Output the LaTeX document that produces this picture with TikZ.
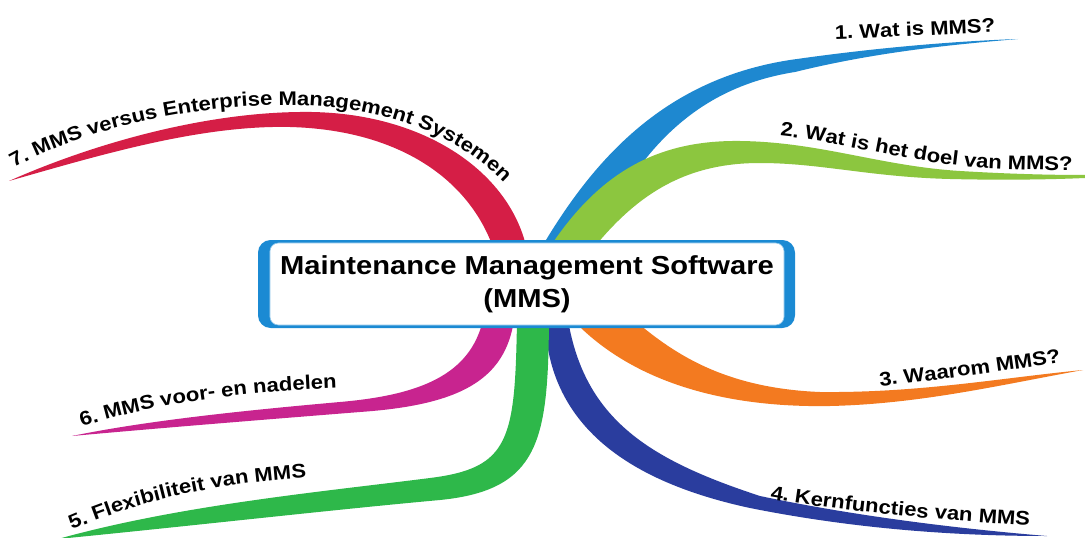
\documentclass[tikz,border=0pt]{standalone}
\usepackage{fontspec}
\setmainfont{Liberation Sans}[FakeStretch=1.12]
\usetikzlibrary{decorations.text}

\definecolor{hubblue}{RGB}{27,138,211}
\definecolor{wat}{RGB}{30,136,208}
\definecolor{doel}{RGB}{140,198,63}
\definecolor{waarom}{RGB}{243,122,32}
\definecolor{kern}{RGB}{42,61,158}
\definecolor{flex}{RGB}{46,184,74}
\definecolor{voordeel}{RGB}{200,36,143}
\definecolor{ems}{RGB}{213,30,70}

\newcommand\topicfont{\bfseries\fontsize{14}{16}\selectfont}

\begin{document}
\begin{tikzpicture}[x=0.025cm,y=-0.025cm,
    hub/.style={fill=white,draw=hubblue!50,line width=0.5pt,rounded corners=6pt,
      minimum width=12.85cm,minimum height=2.05cm,inner sep=0pt,align=center,
      font=\bfseries\fontsize{18.5}{23.4}\selectfont},
    topic/.style={decorate,decoration={text along path,text={|\topicfont|#1}}}]

  \fill[white] (0,0) rectangle (1085,538);
  \useasboundingbox (0,0) rectangle (1085,538);

  % branches, base first
  \fill[ems] (527,250) .. controls (510,170) and (420,110) .. (300,112)
    .. controls (200,113) and (90,145) .. (9,181)
    .. controls (100,155) and (200,125) .. (290,127)
    .. controls (400,130) and (470,180) .. (494,250) -- cycle;
  \fill[wat] (540,250) .. controls (590,165) and (660,80) .. (790,60)
    .. controls (880,47) and (960,41) .. (1018,39)
    .. controls (960,44) and (880,51) .. (795,72)
    .. controls (680,90) and (630,170) .. (590,250) -- cycle;
  \fill[doel] (548,250) .. controls (600,170) and (660,140) .. (740,141)
    .. controls (820,142) and (880,166) .. (960,171)
    .. controls (1010,174) and (1050,175) .. (1085,175)
    -- (1085,178) .. controls (1040,180) and (990,180) .. (950,179)
    .. controls (870,177) and (820,163) .. (760,163)
    .. controls (690,163) and (640,190) .. (592,250) -- cycle;
  \fill[waarom] (573,320) .. controls (630,380) and (720,408) .. (830,406)
    .. controls (920,404) and (1000,385) .. (1083,370)
    .. controls (1000,378) and (920,393) .. (820,392)
    .. controls (720,388) and (670,350) .. (634,320) -- cycle;
  \fill[kern] (568,320) .. controls (585,420) and (650,460) .. (760,496)
    .. controls (850,515) and (950,528) .. (1047,536)
    .. controls (950,536) and (850,528) .. (750,508)
    .. controls (620,480) and (548,420) .. (545,320) -- cycle;
  \fill[voordeel] (483,320) .. controls (470,375) and (420,395) .. (340,402)
    .. controls (250,410) and (150,420) .. (72,436)
    .. controls (160,428) and (260,420) .. (360,412)
    .. controls (460,405) and (505,380) .. (514,320) -- cycle;
  \fill[flex] (517,320) .. controls (515,440) and (510,468) .. (430,478)
    .. controls (320,492) and (180,505) .. (58,539)
    .. controls (200,525) and (330,510) .. (440,500)
    .. controls (540,490) and (548,440) .. (549,320) -- cycle;

  % centre
  \fill[hubblue,rounded corners=9pt] (258,240) rectangle (795,328);
  \node[hub] (mms) at (527,284) {Maintenance Management Software\\(MMS)};

  % topics
  \path[topic=1. Wat is MMS?] (835,39) .. controls (900,37) and (960,33) .. (1080,29);
  \path[topic=2. Wat is het doel van MMS?] (780,136) .. controls (840,142) and (900,160) .. (970,167)
    .. controls (1020,171) and (1060,170) .. (1120,170);
  \path[topic=3. Waarom MMS?] (880,386) .. controls (950,379) and (1010,370) .. (1110,355);
  \path[topic=4. Kernfuncties van MMS] (770,499) .. controls (850,512) and (950,522) .. (1100,530);
  \path[topic=5. Flexibiliteit van MMS] (72,530) .. controls (130,505) and (200,485) .. (300,478) -- (420,472);
  \path[topic=6. MMS voor- en nadelen] (82,427) .. controls (150,405) and (230,392) .. (340,388) -- (420,386);
  \path[topic=7. MMS versus Enterprise Management Systemen] (14,168) .. controls (90,125) and (200,105) .. (290,105)
    .. controls (390,105) and (470,140) .. (515,195) -- (560,280);
\end{tikzpicture}
\end{document}
